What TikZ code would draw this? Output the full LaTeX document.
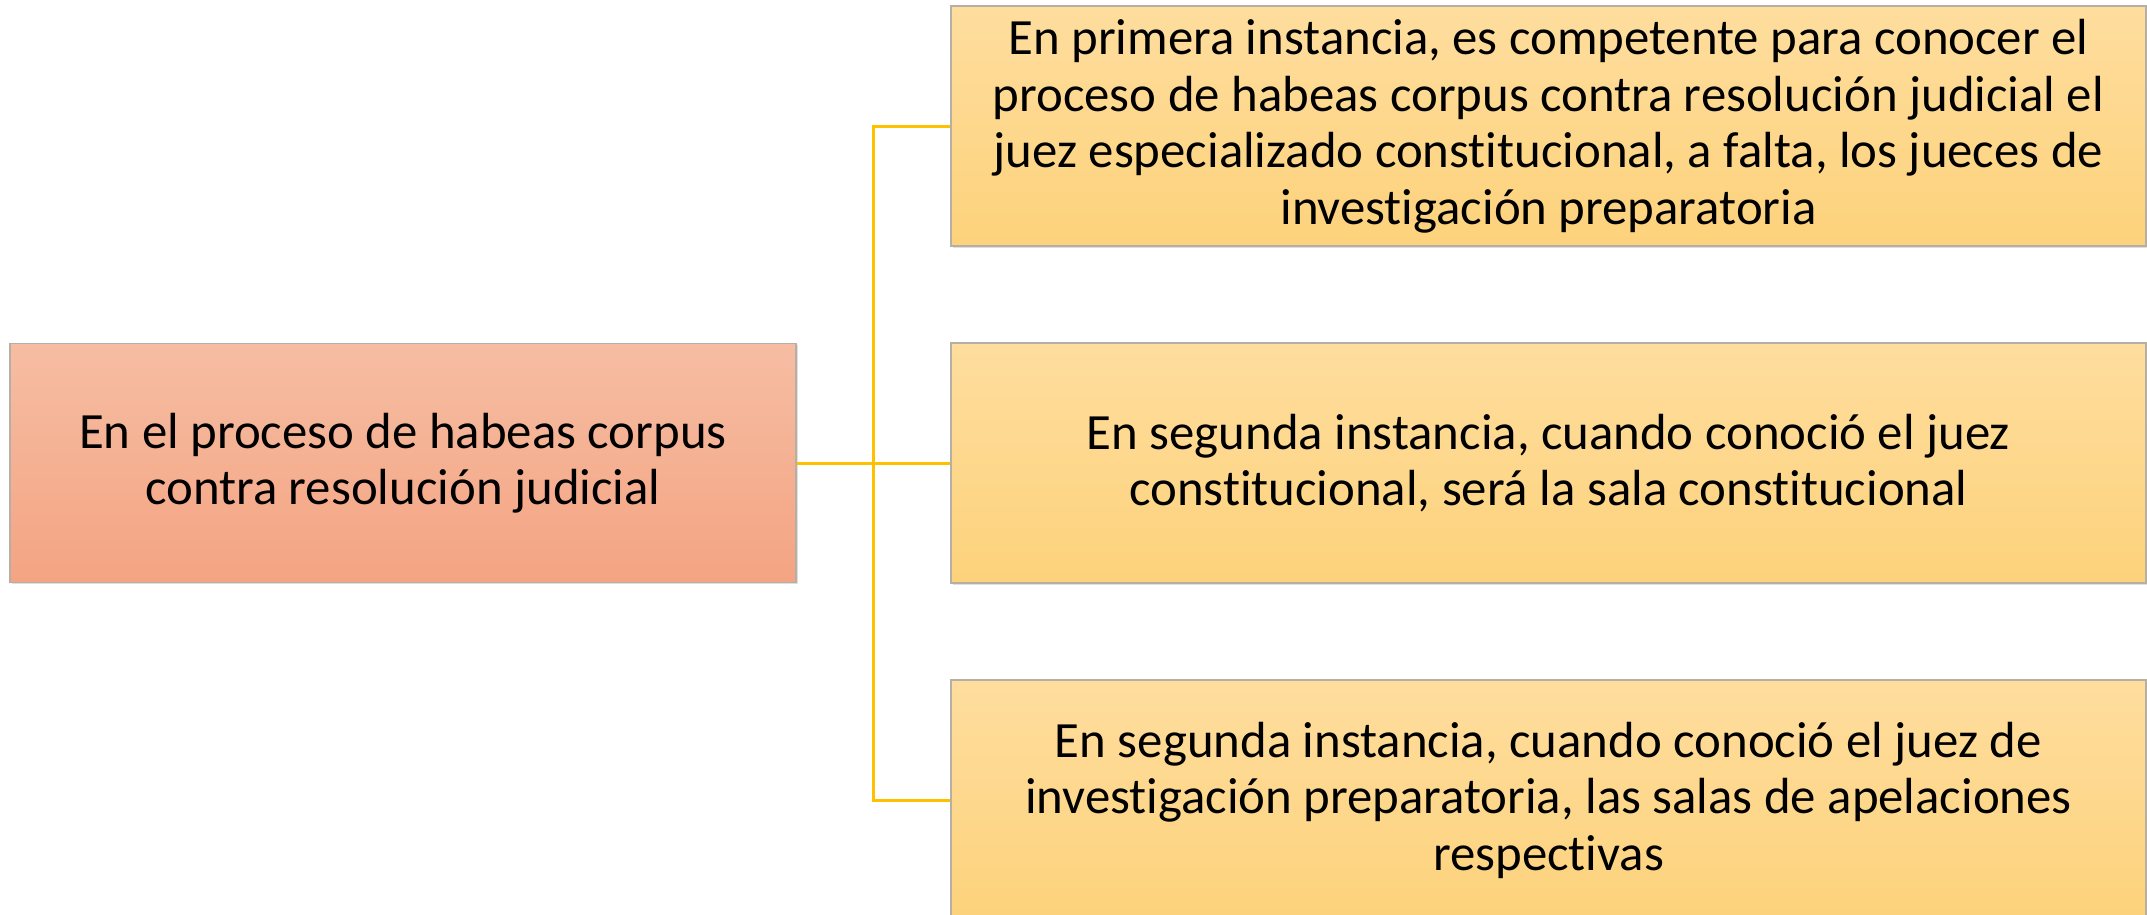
\documentclass[tikz,border=0pt]{standalone}
\usepackage{fontspec}
\setmainfont[Ligatures=NoCommon]{Carlito}
\usetikzlibrary{shadows}
\definecolor{linecol}{HTML}{FFC000}
\definecolor{bordcol}{HTML}{B5AFA5}
\definecolor{ltop}{HTML}{F6BDA3}
\definecolor{lbot}{HTML}{F4A482}
\definecolor{rtop}{HTML}{FEDD9E}
\definecolor{rbot}{HTML}{FDD27B}
\begin{document}
\begin{tikzpicture}[x=1pt,y=-1pt,
  boxbase/.style={draw=bordcol,line width=1.5pt,rectangle,inner sep=0pt,align=center,
    font=\fontsize{50.8}{56.5}\selectfont, drop shadow={opacity=0.25,shadow xshift=1.5pt,shadow yshift=-1.5pt}},
  leftbox/.style={boxbase,top color=ltop,bottom color=lbot,minimum width=786pt,minimum height=239pt},
  rightbox/.style={boxbase,top color=rtop,bottom color=rbot,minimum width=1195pt,minimum height=240pt},
  conn/.style={draw=linecol,line width=3pt}]
\useasboundingbox (0,0) rectangle (2147,914);
\begin{scope}
\clip (0,0) rectangle (2147,914);
\node[leftbox] (L) at (403,463) {En el proceso de habeas corpus\\contra resolución judicial};
\node[rightbox] (R1) at (1548.5,126) {En primera instancia, es competente para conocer el\\proceso de habeas corpus contra resolución judicial el\\juez especializado constitucional, a falta, los jueces de\\investigación preparatoria};
\node[rightbox] (R2) at (1548.5,463) {En segunda instancia, cuando conoció el juez\\constitucional, será la sala constitucional};
\node[rightbox] (R3) at (1548.5,800) {En segunda instancia, cuando conoció el juez de\\investigación preparatoria, las salas de apelaciones\\respectivas};
\coordinate (J) at (873,463);
\draw[conn] (L.east) -- (J) -- (R2.west);
\draw[conn] (J) |- (R1.west);
\draw[conn] (J) |- (R3.west);
\end{scope}
\end{tikzpicture}
\end{document}
